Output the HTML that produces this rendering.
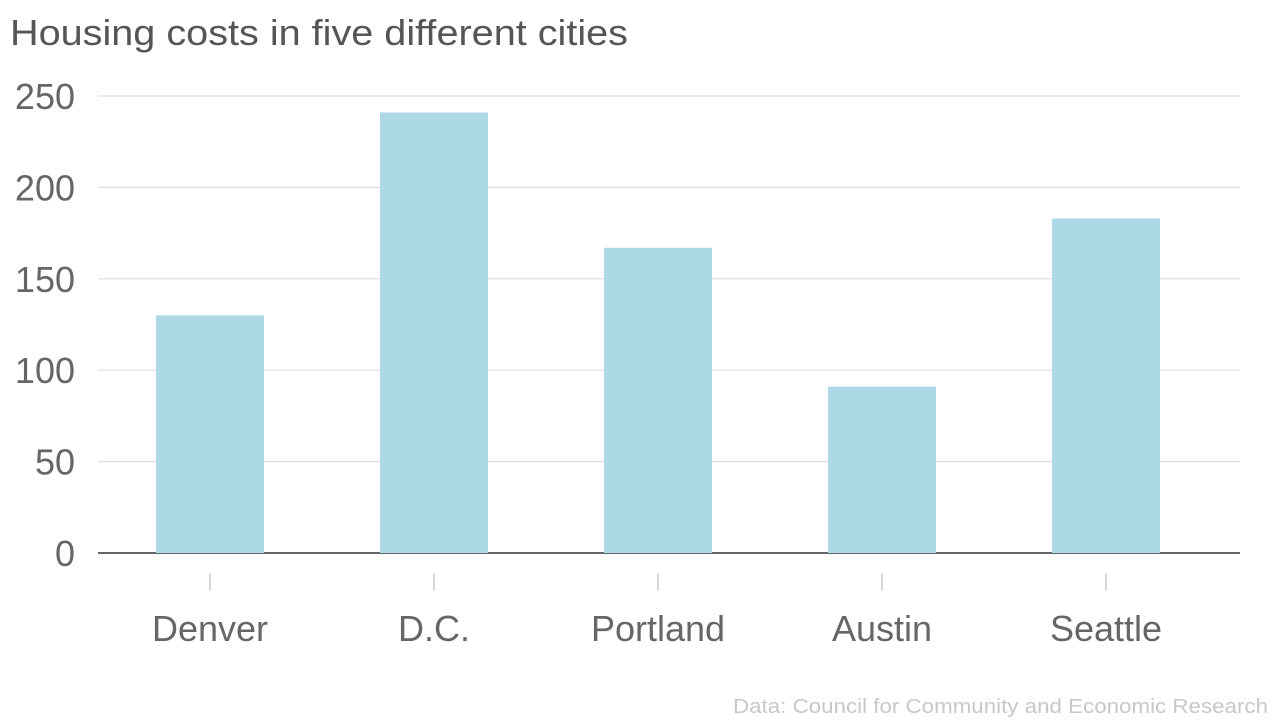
<!DOCTYPE html>
<html><head><meta charset="utf-8"><style>
html,body{margin:0;padding:0;background:#fff;}
svg{display:block;font-family:"Liberation Sans",sans-serif;}
</style></head><body>
<svg id="chart" width="1280" height="720" viewBox="0 0 1280 720">
<text x="10" y="45" font-size="36" fill="#555" textLength="618" lengthAdjust="spacingAndGlyphs">Housing costs in five different cities</text>
<g id="grid"></g><g id="bars"></g><g id="xaxis"></g>
<text x="733" y="713" font-size="20" fill="#c8c8c8" textLength="535" lengthAdjust="spacingAndGlyphs">Data: Council for Community and Economic Research</text>
</svg>
<script>
const categories = ["Denver","D.C.","Portland","Austin","Seattle"];
const values = [130,241,167,91,183];
const yTicks = [0,50,100,150,200,250];
const NS="http://www.w3.org/2000/svg";
const left=98,right=1240,y0=553,yTop=96,yMax=250;
const y=v=>y0-(v/yMax)*(y0-yTop);
const band=224;
const x=i=>left+band*i+band/2;
const barW=108;
function mk(tag,attrs,parent,text){const e=document.createElementNS(NS,tag);for(const k in attrs)e.setAttribute(k,attrs[k]);if(text!=null)e.textContent=text;parent.appendChild(e);return e;}
const grid=document.getElementById('grid'),bars=document.getElementById('bars'),xa=document.getElementById('xaxis');
yTicks.forEach(t=>{
  const l=mk('line',{x1:left,x2:right,y1:y(t),y2:y(t),stroke:t===0?'#333':'#ddd','stroke-width':t===0?1.5:1.2},grid);
  
  
  const tx=mk('text',{x:75,y:y(t)+13,'font-size':36,fill:'#666','text-anchor':'end'},grid,String(t));
  
  
});
categories.forEach((c,i)=>{
  const r=mk('rect',{x:x(i)-barW/2,y:y(values[i]),width:barW,height:y0-y(values[i]),fill:'#add8e6'},bars);
  
  
  const tk=mk('line',{x1:x(i),x2:x(i),y1:573,y2:591,stroke:'#ccc','stroke-width':1.5},xa);
  
  
  const lb=mk('text',{x:x(i),y:641,'font-size':36,fill:'#666','text-anchor':'middle'},xa,c);
  
  
});
</script>
</body></html>
